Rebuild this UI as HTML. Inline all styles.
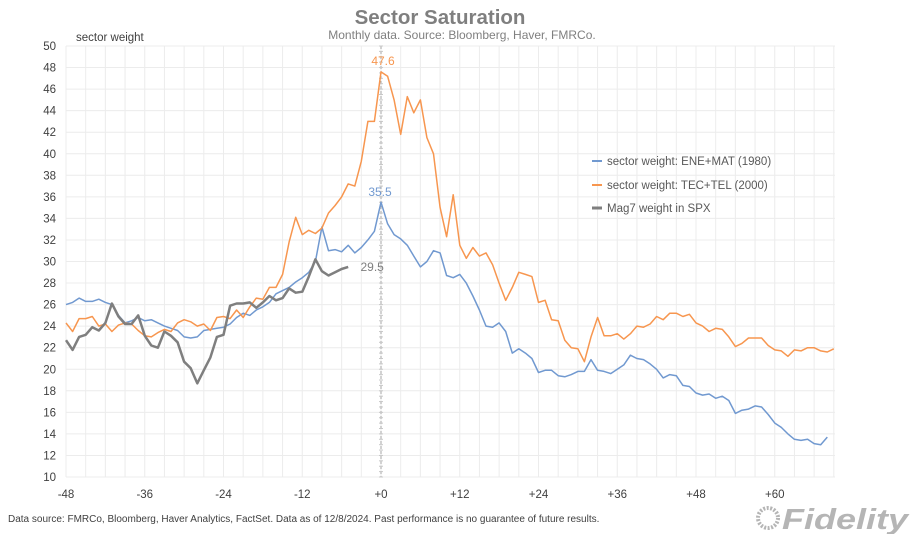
<!DOCTYPE html>
<html><head><meta charset="utf-8">
<style>
body{margin:0;background:#fff;font-family:"Liberation Sans",Arial,sans-serif;}
#wrap{position:relative;width:913px;height:534px;overflow:hidden;}
</style></head>
<body>
<div id="wrap">
<svg id="chart" width="913" height="534">
  <text x="440" y="24" text-anchor="middle" font-size="20.5" font-weight="bold" fill="#7f7f7f">Sector Saturation</text>
  <text x="462" y="39" text-anchor="middle" font-size="12" fill="#7f7f7f">Monthly data.  Source: Bloomberg, Haver, FMRCo.</text>
  <text x="76" y="41" font-size="11.5" fill="#404040">sector weight</text>
  <g id="grid"></g>
  <g id="axes"></g>
  <g id="series"></g>
  <g font-size="11.5" fill="#595959">
    <g><line x1="592" y1="161" x2="602" y2="161" stroke="#7199d0" stroke-width="2"/><text x="607" y="165">sector weight: ENE+MAT (1980)</text></g>
    <g><line x1="592" y1="185" x2="602" y2="185" stroke="#f7964f" stroke-width="2"/><text x="607" y="189">sector weight: TEC+TEL (2000)</text></g>
    <g><line x1="592" y1="208" x2="602" y2="208" stroke="#7f7f7f" stroke-width="3"/><text x="607" y="212">Mag7 weight in SPX</text></g>
  </g>
  <text x="8" y="522" font-size="10" fill="#404040">Data source: FMRCo, Bloomberg, Haver Analytics, FactSet. Data as of 12/8/2024. Past performance is no guarantee of future results.</text>
  <g>
    <circle cx="768" cy="518" r="10" fill="none" stroke="#b5b5b5" stroke-width="4" stroke-dasharray="2 1.5"/>
    <text x="782" y="529" font-size="29" font-weight="bold" font-style="italic" fill="#b5b5b5" textLength="126" lengthAdjust="spacingAndGlyphs">Fidelity</text>
  </g>
</svg>
</div>
<script>
const months = [];
for (let m = -48; m <= 69; m++) months.push(m);
const yTicks = [10,12,14,16,18,20,22,24,26,28,30,32,34,36,38,40,42,44,46,48,50];
const xTicks = [-48,-36,-24,-12,0,12,24,36,48,60];
const xTickLabels = ["-48","-36","-24","-12","+0","+12","+24","+36","+48","+60"];
const eneMat = [26.0,26.2,26.6,26.3,26.3,26.5,26.2,26.0,25.0,24.3,24.5,24.8,24.5,24.6,24.3,24.0,23.8,23.6,23.0,22.9,23.0,23.6,23.7,23.8,23.9,24.2,24.8,25.2,25.0,25.5,25.8,26.2,27.0,27.3,27.6,28.1,28.5,29.0,30.0,33.2,31.0,31.1,30.9,31.5,30.8,31.3,32.0,32.8,35.5,33.5,32.5,32.1,31.5,30.5,29.5,30.0,31.0,30.8,28.7,28.5,28.8,28.0,26.8,25.5,24.0,23.9,24.3,23.5,21.5,21.9,21.5,21.0,19.7,19.9,19.9,19.4,19.3,19.5,19.8,19.8,20.9,19.9,19.8,19.6,20.0,20.4,21.3,21.0,20.9,20.5,20.0,19.2,19.5,19.4,18.5,18.4,17.8,17.6,17.7,17.3,17.5,17.1,15.9,16.2,16.3,16.6,16.5,15.8,15.0,14.6,14.0,13.5,13.4,13.5,13.1,13.0,13.7];
const tecTel = [24.3,23.5,24.7,24.7,24.9,24.0,24.2,23.5,24.1,24.3,24.2,23.6,23.1,23.0,23.4,23.7,23.5,24.3,24.6,24.4,24.0,24.2,23.6,24.8,24.9,24.7,25.5,24.8,25.8,26.6,26.5,27.6,27.6,28.8,31.8,34.1,32.5,32.9,32.6,33.1,34.5,35.2,36.0,37.2,37.0,39.3,43.0,43.0,47.6,47.2,45.0,41.8,45.3,43.8,45.0,41.5,40.0,35.0,32.3,36.2,31.5,30.3,31.3,30.5,30.8,29.7,28.0,26.4,27.6,29.0,28.8,28.6,26.2,26.4,24.6,24.5,22.7,22.0,21.9,20.7,23.0,24.8,23.1,23.1,23.3,22.8,23.3,24.0,23.9,24.2,24.9,24.6,25.2,25.2,24.9,25.1,24.3,24.0,23.5,23.8,23.7,23.0,22.1,22.4,22.9,22.9,22.9,22.2,21.8,21.7,21.2,21.8,21.7,22.0,22.0,21.7,21.6,21.9];
const mag7 = [22.7,21.8,23.0,23.2,23.9,23.6,24.3,26.1,24.9,24.2,24.2,25.0,23.1,22.2,22.0,23.5,23.1,22.5,20.7,20.1,18.7,19.9,21.1,23.0,23.2,25.9,26.1,26.1,26.2,25.7,26.2,26.8,26.4,26.6,27.5,27.1,27.2,28.6,30.2,29.1,28.7,29.0,29.3,29.5];

const X0=66, X1=835, Y0=477, Y1=46;
const xs = m => 381 + m*(381-66)/48;
const ys = v => Y0 - (v-10)*(Y0-Y1)/40;
const NS="http://www.w3.org/2000/svg";
function mk(tag, parent, attrs){const e=document.createElementNS(NS,tag);for(const k in attrs)e.setAttribute(k,attrs[k]);parent.appendChild(e);return e;}
const grid=document.getElementById('grid'), axes=document.getElementById('axes'), series=document.getElementById('series');
for(let m=-48;m<=69;m+=3){const l=mk('line',grid,{x1:xs(m),x2:xs(m),y1:Y1,y2:Y0,stroke:'#ececec','stroke-width':1});}
yTicks.forEach(v=>{
  const l=mk('line',grid,{x1:X0,x2:X1,y1:ys(v),y2:ys(v),stroke:'#ececec','stroke-width':1});
  
  
  const t=mk('text',axes,{x:56,y:ys(v)+4,'text-anchor':'end','font-size':11.5,fill:'#404040'});
  t.textContent=v;
  
  
});
xTicks.forEach((m,i)=>{
  const t=mk('text',axes,{x:xs(m),y:498,'text-anchor':'middle','font-size':11.5,fill:'#404040'});
  t.textContent=xTickLabels[i];
  
  
});
const zl=mk('line',axes,{x1:xs(0),x2:xs(0),y1:Y1,y2:Y0,stroke:'#a6a6a6','stroke-width':1,'stroke-dasharray':'3 2'});


for(let v=10;v<=50;v+=0.5){mk('line',axes,{x1:xs(0)-2,x2:xs(0)+2,y1:ys(v),y2:ys(v),stroke:'#c8c8c8','stroke-width':1});}
function line(data,color,w,name){
  const pts=data.map((v,i)=>xs(months[i]).toFixed(1)+','+ys(v).toFixed(1)).join(' ');
  const p=mk('polyline',series,{points:pts,fill:'none',stroke:color,'stroke-width':w,'stroke-linejoin':'round'});
  
  
}
line(eneMat,'#7199d0',1.5,'line-ene-mat');
line(tecTel,'#f7964f',1.5,'line-tec-tel');
line(mag7,'#7f7f7f',2.5,'line-mag7');
function lab(txt,x,y,c,name){const t=mk('text',series,{x:x,y:y,'font-size':12,fill:c,'text-anchor':'middle'});t.textContent=txt;}
const iPeak=months.indexOf(0);
lab(tecTel[iPeak].toFixed(1),xs(0)+2,ys(tecTel[iPeak])-7,'#f7964f','tec-tel-peak-label');
lab(eneMat[iPeak].toFixed(1),xs(0)-1,ys(eneMat[iPeak])-6,'#7199d0','ene-mat-peak-label');
const iLast=mag7.length-1;
lab(mag7[iLast].toFixed(1),xs(months[iLast])+24,ys(mag7[iLast])+4,'#7f7f7f','mag7-last-label');
</script>
</body></html>
